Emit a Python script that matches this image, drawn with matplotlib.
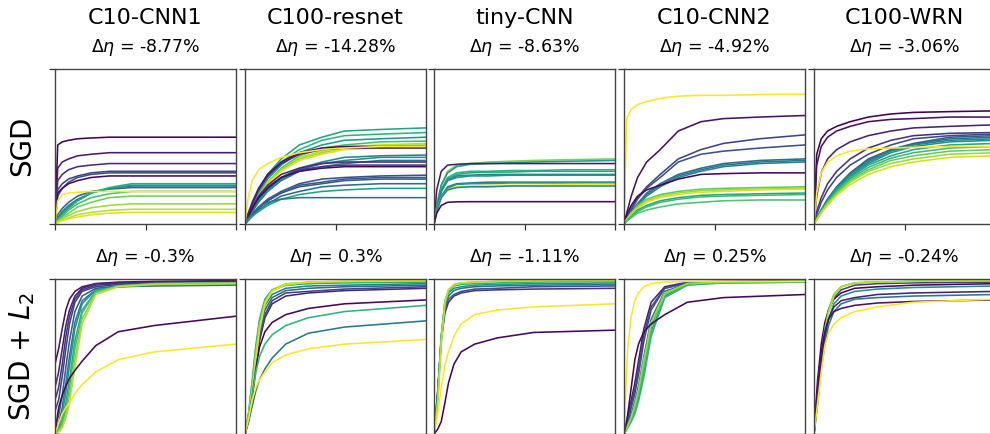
#!/usr/bin/env python3
"""Learning curves for SGD vs SGD + L2, one column per network."""

import matplotlib
matplotlib.use('Agg')
import matplotlib.pyplot as plt

EPOCHS_SGD = [0, 3, 8, 15, 25, 40, 60, 85, 110, 150, 200]
EPOCHS_L2 = [0, 4, 8, 12, 16, 22, 30, 45, 70, 110, 200]

networks = ['C10-CNN1', 'C100-resnet', 'tiny-CNN', 'C10-CNN2', 'C100-WRN']
delta_sgd = ['-8.77%', '-14.28%', '-8.63%', '-4.92%', '-3.06%']
delta_l2 = ['-0.3%', '0.3%', '-1.11%', '0.25%', '-0.24%']

# ---- row 1: SGD ----
cnn1_sgd_colors = [0.0, 0.08, 0.13, 0.2, 0.25, 0.03, 0.32, 0.42, 0.52, 0.62,
                   0.7, 0.78, 0.85, 0.9, 0.95, 1.0]
cnn1_sgd = [
    [0, .51, .53, .54, .55, .555, .56, .56, .56, .56, .56],
    [0, .36, .40, .42, .44, .45, .46, .46, .46, .46, .46],
    [0, .28, .32, .35, .37, .38, .39, .39, .39, .39, .39],
    [0, .22, .26, .29, .31, .33, .34, .34, .34, .34, .34],
    [0, .18, .23, .27, .30, .32, .33, .33, .33, .33, .33],
    [0, .20, .23, .26, .28, .30, .31, .31, .31, .31, .31],
    [0, .06, .10, .14, .18, .21, .225, .235, .235, .235, .235],
    [0, .04, .08, .12, .16, .20, .23, .245, .245, .245, .245],
    [0, .03, .07, .11, .15, .20, .23, .25, .25, .25, .25],
    [0, .03, .06, .10, .15, .20, .235, .26, .26, .26, .26],
    [0, .02, .05, .09, .13, .17, .195, .21, .21, .21, .21],
    [0, .02, .04, .07, .11, .14, .17, .18, .18, .18, .18],
    [0, .015, .035, .055, .08, .105, .12, .13, .13, .13, .13],
    [0, .01, .025, .04, .06, .075, .088, .095, .095, .095, .095],
    [0, .01, .02, .035, .045, .06, .07, .075, .075, .075, .075],
    [0, .15, .19, .20, .205, .21, .21, .21, .21, .21, .21],
]

resnet_sgd_colors = [0.6, 0.65, 0.55, 0.7, 0.9, 0.85, 0.95, 0.05, 0.1, 0.45,
                     0.5, 0.4, 0.12, 0.18, 0.03, 0.25, 0.3, 0.28, 0.35, 0.58,
                     0.38, 1.0]
resnet_sgd = [
    [0, .05, .12, .22, .32, .42, .51, .56, .60, .61, .62],
    [0, .05, .12, .21, .30, .40, .48, .54, .57, .58, .59],
    [0, .04, .11, .20, .29, .38, .46, .51, .54, .55, .56],
    [0, .04, .11, .19, .27, .36, .44, .49, .51, .53, .535],
    [0, .04, .10, .18, .27, .35, .43, .47, .50, .51, .52],
    [0, .04, .10, .18, .26, .35, .42, .46, .49, .50, .51],
    [0, .04, .10, .17, .26, .34, .41, .45, .48, .49, .50],
    [0, .06, .14, .23, .32, .40, .46, .49, .50, .50, .50],
    [0, .05, .13, .22, .31, .39, .45, .48, .49, .49, .49],
    [0, .04, .09, .16, .23, .30, .36, .40, .43, .44, .445],
    [0, .03, .09, .15, .22, .29, .35, .39, .41, .43, .43],
    [0, .03, .08, .14, .21, .28, .34, .37, .39, .41, .41],
    [0, .04, .11, .18, .25, .32, .36, .39, .40, .40, .40],
    [0, .04, .10, .17, .24, .30, .35, .37, .38, .38, .38],
    [0, .04, .10, .17, .23, .30, .34, .36, .37, .37, .37],
    [0, .03, .06, .11, .16, .21, .26, .29, .30, .31, .315],
    [0, .02, .06, .105, .15, .20, .25, .27, .29, .30, .30],
    [0, .02, .06, .10, .15, .20, .24, .26, .28, .29, .29],
    [0, .02, .05, .09, .13, .18, .21, .24, .25, .26, .26],
    [0, .02, .05, .08, .12, .16, .19, .21, .22, .23, .23],
    [0, .03, .07, .11, .14, .16, .17, .17, .17, .17, .17],
    [0, .15, .28, .35, .39, .43, .46, .48, .49, .50, .50],
]

tiny_sgd_colors = [0.8, 0.55, 0.08, 0.65, 0.6, 0.45, 0.5, 0.4, 0.55, 1.0,
                   0.45, 0.03]
tiny_sgd = [
    [0, .12, .25, .34, .38, .39, .40, .405, .41, .415, .42],
    [0, .12, .25, .33, .37, .385, .39, .395, .40, .405, .41],
    [0, .22, .34, .38, .385, .39, .39, .39, .39, .39, .39],
    [0, .11, .22, .30, .33, .34, .34, .345, .345, .35, .35],
    [0, .11, .22, .29, .32, .33, .335, .335, .34, .34, .34],
    [0, .10, .21, .28, .31, .315, .32, .32, .32, .32, .32],
    [0, .10, .21, .28, .30, .31, .31, .315, .315, .315, .315],
    [0, .09, .18, .24, .26, .265, .27, .27, .27, .27, .27],
    [0, .09, .18, .23, .255, .26, .26, .265, .265, .265, .265],
    [0, .08, .17, .22, .24, .245, .25, .25, .25, .255, .256],
    [0, .08, .17, .22, .235, .24, .24, .245, .245, .245, .245],
    [0, .07, .12, .14, .143, .144, .144, .144, .144, .144, .144],
]

cnn2_sgd_colors = [0.05, 0.2, 0.25, 0.35, 0.4, 0.45, 0.02, 0.75, 0.85, 0.95,
                   0.6, 0.68, 0.72, 1.0]
cnn2_sgd = [
    [0, .07, .18, .30, .40, .48, .60, .66, .68, .69, .70],
    [0, .04, .10, .17, .24, .32, .42, .48, .52, .55, .575],
    [0, .04, .09, .16, .23, .30, .40, .45, .47, .49, .51],
    [0, .03, .08, .13, .20, .26, .32, .36, .39, .41, .42],
    [0, .03, .07, .13, .19, .25, .31, .35, .38, .40, .41],
    [0, .03, .07, .12, .18, .24, .30, .34, .37, .39, .40],
    [0, .06, .12, .18, .22, .25, .29, .32, .325, .33, .33],
    [0, .03, .07, .12, .16, .19, .21, .225, .23, .235, .24],
    [0, .03, .07, .11, .15, .18, .20, .215, .22, .225, .23],
    [0, .03, .06, .10, .14, .17, .19, .205, .21, .22, .225],
    [0, .02, .05, .09, .12, .15, .17, .185, .19, .195, .20],
    [0, .02, .05, .08, .11, .14, .16, .175, .18, .185, .19],
    [0, .02, .04, .07, .09, .11, .13, .14, .15, .155, .155],
    [0, .68, .74, .77, .79, .81, .825, .83, .83, .835, .837],
]

wrn_sgd_colors = [0.15, 0.22, 0.3, 0.38, 0.45, 0.52, 0.6, 0.68, 0.76, 0.85,
                  0.93, 0.0, 0.05, 0.1, 1.0]
wrn_sgd = [
    [0, .08, .17, .26, .34, .42, .49, .54, .57, .585, .59],
    [0, .06, .14, .22, .30, .38, .45, .51, .55, .57, .58],
    [0, .034, .09, .16, .24, .33, .42, .48, .52, .56, .57],
    [0, .034, .09, .16, .235, .325, .41, .48, .515, .55, .56],
    [0, .033, .088, .154, .23, .32, .40, .47, .51, .54, .55],
    [0, .032, .086, .15, .23, .31, .39, .46, .50, .53, .54],
    [0, .031, .083, .146, .22, .30, .38, .44, .48, .51, .52],
    [0, .03, .08, .14, .21, .29, .365, .425, .46, .49, .50],
    [0, .029, .077, .134, .20, .28, .35, .41, .44, .47, .48],
    [0, .028, .074, .13, .19, .27, .34, .39, .42, .45, .46],
    [0, .026, .07, .12, .185, .255, .32, .37, .40, .43, .44],
    [0, .45, .55, .60, .63, .66, .69, .71, .72, .725, .73],
    [0, .38, .50, .56, .60, .63, .66, .675, .68, .69, .69],
    [0, .18, .33, .42, .48, .53, .57, .60, .62, .63, .64],
    [0, .20, .33, .40, .44, .47, .485, .49, .495, .50, .50],
]

# ---- row 2: SGD + L2 ----
cnn1_l2_colors = [0.05, 0.1, 0.15, 0.2, 0.3, 0.4, 0.5, 0.6, 0.7, 0.8, 0.9,
                  0.02, 1.0]
cnn1_l2 = [
    [.45, .55, .68, .80, .87, .92, .95, .97, .98, .985, .99],
    [.30, .40, .55, .70, .80, .89, .94, .97, .975, .98, .985],
    [.22, .30, .45, .63, .76, .87, .93, .96, .97, .975, .98],
    [.15, .22, .37, .55, .71, .85, .92, .95, .965, .97, .975],
    [.05, .12, .25, .43, .60, .79, .89, .94, .955, .96, .965],
    [.02, .07, .17, .33, .50, .72, .86, .93, .95, .955, .96],
    [.01, .05, .13, .27, .44, .68, .84, .93, .95, .96, .965],
    [0, .03, .09, .20, .35, .60, .80, .92, .95, .965, .97],
    [0, .02, .07, .16, .30, .55, .78, .92, .955, .97, .975],
    [0, .02, .05, .12, .24, .48, .74, .91, .955, .97, .975],
    [0, .01, .04, .10, .20, .43, .71, .90, .95, .965, .97],
    [0, .17, .25, .31, .36, .41, .47, .57, .66, .70, .76],
    [0, .07, .13, .17, .20, .26, .32, .40, .48, .53, .58],
]

resnet_l2_colors = [0.12, 0.2, 0.35, 0.45, 0.6, 0.7, 0.85, 0.95, 0.02, 0.65,
                    0.4, 1.0]
resnet_l2 = [
    [0, .09, .25, .44, .60, .75, .84, .89, .91, .925, .94],
    [0, .10, .26, .45, .62, .77, .86, .91, .92, .935, .95],
    [0, .10, .27, .47, .65, .80, .88, .925, .94, .95, .96],
    [0, .11, .29, .50, .68, .83, .90, .94, .955, .96, .97],
    [0, .14, .35, .57, .74, .87, .93, .96, .97, .975, .98],
    [0, .13, .33, .55, .72, .86, .93, .96, .975, .98, .985],
    [0, .12, .30, .52, .70, .85, .93, .97, .98, .985, .99],
    [0, .10, .27, .48, .67, .84, .92, .965, .98, .985, .99],
    [0, .09, .24, .42, .56, .66, .72, .77, .81, .84, .865],
    [0, .10, .25, .40, .50, .58, .64, .70, .75, .79, .83],
    [0, .08, .18, .28, .35, .42, .49, .58, .65, .69, .73],
    [0, .10, .22, .30, .35, .40, .46, .51, .55, .58, .61],
]

tiny_l2_colors = [0.15, 0.25, 0.4, 0.5, 0.65, 0.8, 0.9, 1.0, 0.02]
tiny_l2 = [
    [0, .27, .60, .78, .85, .89, .91, .925, .93, .935, .94],
    [0, .26, .61, .80, .87, .90, .92, .935, .94, .95, .955],
    [0, .25, .62, .82, .89, .925, .94, .95, .955, .96, .965],
    [0, .24, .63, .84, .91, .94, .95, .96, .965, .97, .975],
    [0, .22, .63, .85, .92, .955, .965, .97, .975, .98, .985],
    [0, .20, .62, .86, .93, .965, .975, .98, .985, .99, .99],
    [0, .18, .58, .84, .93, .96, .975, .98, .985, .99, .99],
    [0, .12, .30, .44, .53, .63, .71, .77, .80, .82, .84],
    [0, .03, .08, .20, .33, .45, .53, .58, .62, .655, .67],
]

cnn2_l2_colors = [0.1, 0.18, 0.25, 0.35, 0.45, 0.55, 0.65, 0.75, 0.85, 0.02,
                  1.0]
cnn2_l2 = [
    [0, .10, .22, .33, .47, .68, .85, .95, .98, .985, .99],
    [0, .08, .19, .29, .42, .64, .82, .94, .975, .98, .985],
    [0, .07, .17, .26, .38, .60, .80, .94, .975, .98, .985],
    [0, .06, .13, .21, .31, .50, .74, .92, .97, .98, .985],
    [0, .05, .11, .18, .27, .45, .70, .90, .97, .98, .985],
    [0, .04, .09, .15, .23, .40, .66, .89, .965, .975, .98],
    [0, .04, .08, .13, .21, .37, .63, .88, .96, .975, .98],
    [0, .05, .10, .17, .26, .44, .69, .90, .97, .98, .985],
    [0, .05, .11, .19, .29, .48, .72, .91, .97, .98, .985],
    [0, .12, .30, .48, .58, .66, .71, .77, .85, .88, .90],
    [0, .55, .76, .86, .91, .95, .97, .98, .985, .985, .985],
]

wrn_l2_colors = [0.02, 0.2, 0.6, 0.8, 0.9, 0.5, 0.4, 0.1, 0.05, 1.0]
wrn_l2 = [
    [0, .35, .58, .72, .80, .87, .91, .94, .95, .96, .97],
    [0, .28, .52, .68, .79, .88, .93, .96, .97, .975, .98],
    [0, .25, .50, .68, .80, .90, .95, .975, .98, .985, .99],
    [0, .22, .47, .66, .79, .90, .95, .975, .98, .985, .99],
    [0, .20, .45, .64, .78, .89, .95, .975, .98, .985, .99],
    [0, .22, .45, .62, .74, .84, .89, .92, .935, .945, .955],
    [0, .20, .42, .58, .70, .79, .84, .87, .88, .89, .90],
    [0, .26, .48, .64, .74, .82, .86, .88, .90, .91, .92],
    [0, .30, .52, .66, .74, .79, .81, .83, .845, .855, .865],
    [0, .20, .40, .57, .65, .71, .75, .79, .82, .85, .87],
]

sgd_panels = [(cnn1_sgd, cnn1_sgd_colors), (resnet_sgd, resnet_sgd_colors),
              (tiny_sgd, tiny_sgd_colors), (cnn2_sgd, cnn2_sgd_colors),
              (wrn_sgd, wrn_sgd_colors)]
l2_panels = [(cnn1_l2, cnn1_l2_colors), (resnet_l2, resnet_l2_colors),
             (tiny_l2, tiny_l2_colors), (cnn2_l2, cnn2_l2_colors),
             (wrn_l2, wrn_l2_colors)]


def draw_panel(ax, epochs, curves, colors):
    cmap = plt.get_cmap('viridis')
    for ys, c in zip(curves, colors):
        ax.plot(epochs, ys, color=cmap(c), lw=1.15)
    ax.set_xlim(0, 200)
    ax.set_ylim(0, 1)
    ax.set_xticks([0, 100, 200])
    ax.set_yticks([0, 1])
    ax.set_xticklabels([])
    ax.set_yticklabels([])
    ax.tick_params(length=4, width=0.9, color='#333333')
    for sp in ax.spines.values():
        sp.set_color('#444444')
        sp.set_linewidth(1.0)


def main():
    W, H = 990, 434
    fig = plt.figure(figsize=(W / 100, H / 100), dpi=100)

    lefts = [55, 245, 434, 624, 814]
    aw, ah = 181, 155
    row_tops = [69, 279]

    for i, name in enumerate(networks):
        cx = (lefts[i] + aw / 2) / W
        fig.text(cx, 1 - 18 / H, name, ha='center', va='center', fontsize=16)
        fig.text(cx, 1 - 47 / H, r'$\Delta\eta$ = ' + delta_sgd[i],
                 ha='center', va='center', fontsize=12.5)
        fig.text(cx, 1 - 258 / H, r'$\Delta\eta$ = ' + delta_l2[i],
                 ha='center', va='center', fontsize=12.5)

        for r, (panels, epochs) in enumerate([(sgd_panels, EPOCHS_SGD),
                                              (l2_panels, EPOCHS_L2)]):
            top = row_tops[r]
            ax = fig.add_axes([lefts[i] / W, 1 - (top + ah) / H, aw / W, ah / H])
            curves, colors = panels[i]
            draw_panel(ax, epochs, curves, colors)

    fig.text(22 / W, 1 - 146 / H, 'SGD', rotation=90, ha='center',
             va='center', fontsize=20)
    fig.text(22 / W, 1 - 356 / H, r'SGD + $L_2$', rotation=90, ha='center',
             va='center', fontsize=20)

    fig.savefig('out.png', dpi=100)


if __name__ == '__main__':
    main()
